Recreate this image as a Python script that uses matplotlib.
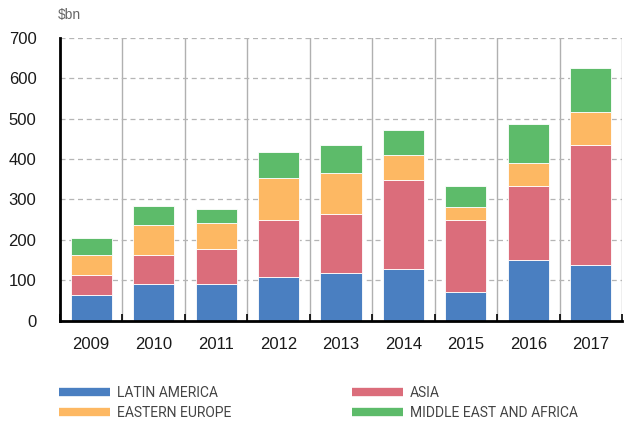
import numpy as np
import matplotlib.pyplot as plt

years = ["2009", "2010", "2011", "2012", "2013", "2014", "2015", "2016", "2017"]
latin_america = [63, 91, 91, 109, 118, 127, 72, 150, 138]
asia = [50, 72, 87, 141, 146, 222, 177, 183, 296]
eastern_europe = [49, 74, 63, 103, 101, 62, 33, 57, 81]
middle_east_africa = [43, 46, 35, 65, 69, 61, 52, 97, 111]

series = [
    ("LATIN AMERICA", latin_america, "#4a7fc1"),
    ("ASIA", asia, "#db6d7b"),
    ("EASTERN EUROPE", eastern_europe, "#fdb863"),
    ("MIDDLE EAST AND AFRICA", middle_east_africa, "#5dbb6a"),
]

plt.rcParams['font.family'] = ['Liberation Sans', 'DejaVu Sans']

fig = plt.figure(figsize=(6.27, 4.21), dpi=100)
ax = fig.add_axes([0.0957, 0.2382, 0.8963, 0.6723])

x = np.arange(len(years))
bottom = np.zeros(len(years))
handles = []
for name, vals, color in series:
    vals = np.array(vals, dtype=float)
    ax.bar(x, vals, width=0.66, bottom=bottom, color=color,
           edgecolor="white", linewidth=0.6, zorder=3)
    bottom += vals
    h, = ax.plot([], [], color=color, lw=6, solid_capstyle="butt", label=name)
    handles.append(h)

ax.set_xlim(-0.5, len(years) - 0.5)
ax.set_ylim(0, 700)
ax.set_yticks(range(0, 701, 100))
ax.set_xticks(x)
ax.set_xticklabels(years)
ax.set_xticks(np.arange(-0.5, len(years)), minor=True)

ax.yaxis.grid(True, color="#b5b5b5", linestyle=(0, (4, 3)), linewidth=0.9, zorder=0)
for b in np.arange(0.5, len(years) + 0.5):
    ax.axvline(b, color="#b0b0b0", linewidth=1.0, zorder=1)

for side in ["top", "right"]:
    ax.spines[side].set_visible(False)
ax.spines["left"].set_linewidth(2)
ax.spines["bottom"].set_linewidth(2)
ax.spines["left"].set_zorder(5)
ax.spines["bottom"].set_zorder(5)

ax.tick_params(axis="y", length=0, pad=17, labelsize=12, labelcolor="#1a1a1a")
ax.tick_params(axis="x", which="major", length=0, pad=12, labelsize=12, labelcolor="#1a1a1a")
ax.tick_params(axis="x", which="minor", direction="in", length=5, width=1.2, color="black")

fig.text(58 / 627, 1 - 15 / 421, "\\$bn", fontsize=10, color="#666666", va="center", ha="left")

legend_font = {"family": ["Roboto", "Liberation Sans"], "size": 10}
for col_handles, x_px in [([handles[0], handles[2]], 59), ([handles[1], handles[3]], 352)]:
    fig.legend(handles=col_handles, loc="upper left",
               bbox_to_anchor=(x_px / 627, 1 - 386 / 421), borderpad=0, borderaxespad=0,
               frameon=False, handlelength=3.7, handletextpad=0.45, labelspacing=0.45,
               prop=legend_font, labelcolor="#444444")

fig.savefig("out.png", dpi=100)
